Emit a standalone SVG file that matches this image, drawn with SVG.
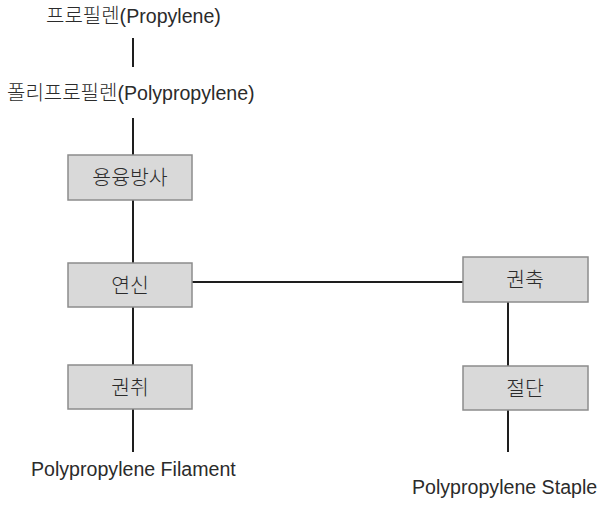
<svg xmlns="http://www.w3.org/2000/svg" width="604" height="505" viewBox="0 0 604 505">
<style>
text{font-family:"Liberation Sans","Noto Sans CJK KR",sans-serif;fill:#2b2b2b;font-size:19.6px}
.h{font-family:"Noto Sans CJK KR",sans-serif;font-size:20px;font-weight:300}
.k{font-family:"Noto Sans CJK KR",sans-serif;font-size:20.5px;font-weight:300;text-anchor:middle}
.box{fill:#d9d9d9;stroke:#8c8c8c;stroke-width:1.5}
.ln{stroke:#1e1e1e;stroke-width:2;fill:none}
</style>
<rect width="604" height="505" fill="#fff"/>
<g id="connectors">
<line class="ln" x1="133" y1="38" x2="133" y2="67"/>
<line class="ln" x1="133" y1="118" x2="133" y2="155"/>
<line class="ln" x1="133" y1="200" x2="133" y2="263"/>
<line class="ln" x1="133" y1="307" x2="133" y2="365"/>
<line class="ln" x1="133" y1="409" x2="133" y2="452"/>
<line class="ln" x1="192" y1="282" x2="463" y2="282"/>
<line class="ln" x1="508" y1="302" x2="508" y2="366"/>
<line class="ln" x1="508" y1="410" x2="508" y2="452"/>
</g>
<g id="propylene"><text x="46" y="23"><tspan class="h">프로필렌</tspan>(Propylene)</text></g>
<g id="polypropylene"><text x="7" y="100"><tspan class="h">폴리프로필렌</tspan>(Polypropylene)</text></g>
<g id="melt-spinning"><rect class="box" x="68" y="155" width="124" height="45"/><text class="k" x="130" y="185">용융방사</text></g>
<g id="drawing"><rect class="box" x="68" y="263" width="124" height="44"/><text class="k" x="130" y="293">연신</text></g>
<g id="winding"><rect class="box" x="68" y="365" width="124" height="44"/><text class="k" x="130" y="395">권취</text></g>
<g id="crimping"><rect class="box" x="463" y="257" width="125" height="45"/><text class="k" x="525" y="287">권축</text></g>
<g id="cutting"><rect class="box" x="463" y="366" width="125" height="44"/><text class="k" x="525" y="396">절단</text></g>
<g id="filament"><text x="31" y="476">Polypropylene Filament</text></g>
<g id="staple"><text x="412" y="494">Polypropylene Staple</text></g>
</svg>
